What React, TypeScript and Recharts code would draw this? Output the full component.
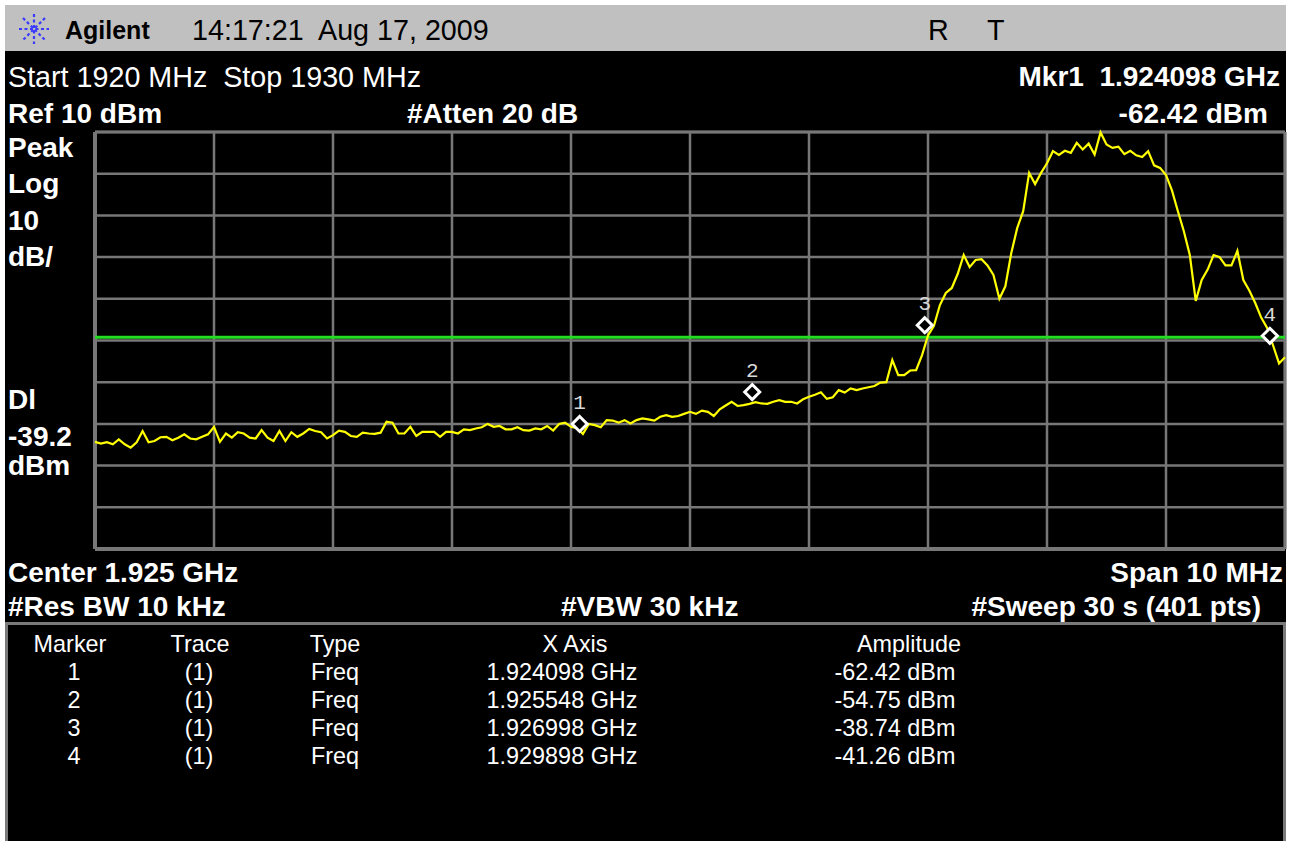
import React from 'react';
import {
  ComposedChart,
  Line,
  XAxis,
  YAxis,
  CartesianGrid,
  ReferenceLine,
  ReferenceDot,
} from 'recharts';

// ---- data ----
const START_MHZ = 1920;
const STOP_MHZ = 1930;

const amplitude = [
  -64.3, -64.7, -64.4, -64.9, -63.7, -64.9, -65.7, -64.4, -61.7, -64.4,
  -64.1, -63.2, -63.1, -63.9, -63.3, -62.5, -63.5, -63.7, -63.1, -62.5,
  -60.7, -64.3, -62.3, -63.3, -62.0, -62.3, -63.3, -63.5, -61.5, -63.3,
  -64.1, -61.7, -64.1, -62.0, -63.1, -62.3, -61.2, -61.7, -62.0, -63.5,
  -62.7, -61.6, -61.9, -62.9, -63.1, -62.1, -62.3, -62.4, -62.1, -59.5,
  -59.7, -62.3, -62.3, -60.7, -62.9, -61.9, -61.9, -61.9, -63.1, -61.9,
  -61.9, -62.3, -61.3, -61.5, -61.1, -60.8, -60.0, -60.7, -60.5, -61.3,
  -61.3, -60.8, -61.5, -61.6, -61.1, -61.3, -60.5, -61.6, -60.0, -59.7,
  -60.7, -61.0, -62.4, -60.0, -60.3, -60.8, -59.1, -59.2, -59.7, -59.1,
  -59.9, -59.1, -58.7, -58.9, -59.2, -58.3, -57.9, -58.3, -58.1, -57.6,
  -57.1, -57.6, -56.8, -57.1, -58.1, -56.5, -55.6, -54.7, -55.7, -55.5,
  -55.2, -54.8, -55.1, -55.2, -54.7, -54.3, -54.7, -54.7, -55.1, -54.1,
  -53.5, -53.0, -52.4, -54.0, -53.6, -51.9, -52.5, -51.5, -51.9, -51.5,
  -51.2, -50.9, -50.1, -50.0, -44.7, -48.3, -48.3, -47.2, -47.1, -43.5,
  -38.8, -36.5, -31.5, -28.6, -27.4, -24.0, -19.5, -22.4, -20.7, -20.5,
  -22.0, -24.3, -30.0, -27.0, -19.0, -13.0, -9.0, 0.2, -2.5, 0.2,
  2.5, 5.4, 4.5, 5.5, 5.0, 7.4, 5.8, 7.2, 4.6, 9.9,
  7.0, 6.2, 6.5, 4.7, 5.5, 4.4, 4.0, 5.4, 2.0, 1.4,
  -0.3, -4.0, -9.0, -13.8, -19.5, -30.5, -25.5, -23.0, -19.5, -20.0,
  -22.0, -22.0, -18.5, -25.5, -28.0, -31.0, -34.5, -37.0, -41.2, -45.5,
  -44.0,
];

const freqTicks = [1920, 1921, 1922, 1923, 1924, 1925, 1926, 1927, 1928, 1929, 1930];
const ampTicks = [10, 0, -10, -20, -30, -40, -50, -60, -70, -80, -90];
const REF_LEVEL = 10;
const BOTTOM_LEVEL = -90;
const displayLine = -39.2;

const markerNums = [1, 2, 3, 4];
const markerFreqMHz = [1924.098, 1925.548, 1926.998, 1929.898];
const markerAmp = [-62.42, -54.75, -38.74, -41.26];
const markerFreqText = ['1.924098 GHz', '1.925548 GHz', '1.926998 GHz', '1.929898 GHz'];
const markerAmpText = ['-62.42 dBm', '-54.75 dBm', '-38.74 dBm', '-41.26 dBm'];

const traceData = amplitude.map((a, i) => ({
  f: START_MHZ + (i * (STOP_MHZ - START_MHZ)) / (amplitude.length - 1),
  a,
}));

// ---- styles ----
const FONT = '"Liberation Sans", Arial, Helvetica, sans-serif';
const GRID = '#777777';

type TxtProps = {
  x: number;
  y: number;
  size?: number;
  bold?: boolean;
  anchor?: 'start' | 'middle' | 'end';
  color?: string;
  children: React.ReactNode;
};

function Txt({ x, y, size = 28, bold = false, anchor = 'start', color = '#fff', children }: TxtProps) {
  const tx = anchor === 'end' ? 'translateX(-100%)' : anchor === 'middle' ? 'translateX(-50%)' : 'none';
  return (
    <div
      style={{
        position: 'absolute',
        left: x,
        top: y - 0.8465 * size,
        fontSize: size,
        lineHeight: `${size}px`,
        fontWeight: bold ? 700 : 400,
        color,
        whiteSpace: 'pre',
        transform: tx,
        fontFamily: FONT,
      }}
    >
      {children}
    </div>
  );
}

const Diamond = (num: number) => (props: any) => {
  const cx = props.cx - 3;
  const cy = props.cy - 10;
  const r = 7.5;
  return (
    <g>
      <polygon
        points={`${cx},${cy - r} ${cx + r},${cy} ${cx},${cy + r} ${cx - r},${cy}`}
        fill="#000"
        stroke="#fff"
        strokeWidth={3}
      />
      <text
        x={cx}
        y={cy - 15}
        textAnchor="middle"
        fontFamily='"Liberation Mono", "DejaVu Sans Mono", monospace'
        fontSize={21}
        fill="#d8d8d8"
      >
        {num}
      </text>
    </g>
  );
};

function Logo() {
  return (
    <svg width={32} height={32} style={{ position: 'absolute', left: 18, top: 13 }}>
      <g stroke="#3a3aff" strokeWidth={2.2} strokeDasharray="3 2.5">
        <line x1={16} y1={1} x2={16} y2={31} />
        <line x1={1} y1={16} x2={31} y2={16} />
        <line x1={5} y1={5} x2={27} y2={27} />
        <line x1={27} y1={5} x2={5} y2={27} />
      </g>
    </svg>
  );
}

export default function App() {
  return (
    <div style={{ position: 'absolute', left: 0, top: 0, width: 1292, height: 841, background: '#fff', overflow: 'hidden' }}>
      {/* instrument panel */}
      <div style={{ position: 'absolute', left: 5, top: 5, width: 1281, height: 46, background: '#c0c0c0' }} />
      <div style={{ position: 'absolute', left: 5, top: 51, width: 1281, height: 800, background: '#000' }} />
      {/* marker table panel */}
      <div
        style={{
          position: 'absolute',
          left: 5,
          top: 622,
          width: 1275,
          height: 240,
          background: '#000',
          border: '3px solid #7a7a7a',
        }}
      />

      <ComposedChart
        width={1292}
        height={841}
        data={traceData}
        margin={{ top: 132, right: 7, bottom: 292, left: 95 }}
        style={{ position: 'absolute', left: 0, top: 0 }}
      >
        <CartesianGrid stroke={GRID} strokeWidth={2.5} />
        <XAxis type="number" dataKey="f" domain={[START_MHZ, STOP_MHZ]} ticks={freqTicks} hide />
        <YAxis type="number" domain={[BOTTOM_LEVEL, REF_LEVEL]} ticks={ampTicks} hide />
        <ReferenceLine x={START_MHZ} stroke={GRID} strokeWidth={4} />
        <ReferenceLine y={BOTTOM_LEVEL} stroke={GRID} strokeWidth={4} />
        <ReferenceLine y={REF_LEVEL} stroke={GRID} strokeWidth={3} />
        <ReferenceLine x={STOP_MHZ} stroke={GRID} strokeWidth={3} />
        <ReferenceLine y={displayLine} stroke="#22dd22" strokeWidth={3} />
        <Line
          type="linear"
          dataKey="a"
          stroke="#ffff00"
          strokeWidth={2.2}
          dot={false}
          isAnimationActive={false}
        />
        {markerNums.map((n, i) => (
          <ReferenceDot key={n} x={markerFreqMHz[i]} y={markerAmp[i]} shape={Diamond(n)} />
        ))}
      </ComposedChart>

      {/* top bar */}
      <Logo />
      <Txt x={65} y={39} size={25} bold color="#000">Agilent</Txt>
      <Txt x={192} y={40} size={28.7} color="#000">14:17:21  Aug 17, 2009</Txt>
      <Txt x={928} y={40} size={28.7} color="#000">R</Txt>
      <Txt x={987} y={40} size={28.7} color="#000">T</Txt>

      {/* header */}
      <Txt x={8} y={87} size={28.7}>Start 1920 MHz  Stop 1930 MHz</Txt>
      <Txt x={8} y={124} size={28} bold>Ref 10 dBm</Txt>
      <Txt x={407} y={124} size={28} bold>#Atten 20 dB</Txt>
      <Txt x={1280} y={87} size={28} bold anchor="end">Mkr1  1.924098 GHz</Txt>
      <Txt x={1268} y={124} size={28} bold anchor="end">-62.42 dBm</Txt>

      {/* left labels */}
      <Txt x={8} y={158} size={28} bold>Peak</Txt>
      <Txt x={8} y={194} size={28} bold>Log</Txt>
      <Txt x={8} y={231} size={28} bold>10</Txt>
      <Txt x={8} y={267} size={28} bold>dB/</Txt>
      <Txt x={8} y={410} size={28} bold>Dl</Txt>
      <Txt x={8} y={447} size={28} bold>-39.2</Txt>
      <Txt x={8} y={476} size={28} bold>dBm</Txt>

      {/* bottom info */}
      <Txt x={8} y={583} size={28} bold>Center 1.925 GHz</Txt>
      <Txt x={1283} y={583} size={28} bold anchor="end">Span 10 MHz</Txt>
      <Txt x={8} y={617} size={28} bold>#Res BW 10 kHz</Txt>
      <Txt x={561} y={617} size={28} bold>#VBW 30 kHz</Txt>
      <Txt x={1261} y={617} size={28} bold anchor="end">#Sweep 30 s (401 pts)</Txt>

      {/* marker table */}
      <Txt x={70} y={653} size={23.4} anchor="middle">Marker</Txt>
      <Txt x={200} y={653} size={23.4} anchor="middle">Trace</Txt>
      <Txt x={335} y={653} size={23.4} anchor="middle">Type</Txt>
      <Txt x={575} y={653} size={23.4} anchor="middle">X Axis</Txt>
      <Txt x={909} y={653} size={23.4} anchor="middle">Amplitude</Txt>
      {markerNums.map((n, i) => (
        <React.Fragment key={n}>
          <Txt x={74} y={681 + i * 28} size={23.4} anchor="middle">{String(n)}</Txt>
          <Txt x={199} y={681 + i * 28} size={23.4} anchor="middle">(1)</Txt>
          <Txt x={335} y={681 + i * 28} size={23.4} anchor="middle">Freq</Txt>
          <Txt x={562} y={681 + i * 28} size={23.4} anchor="middle">{markerFreqText[i]}</Txt>
          <Txt x={895} y={681 + i * 28} size={23.4} anchor="middle">{markerAmpText[i]}</Txt>
        </React.Fragment>
      ))}
    </div>
  );
}
